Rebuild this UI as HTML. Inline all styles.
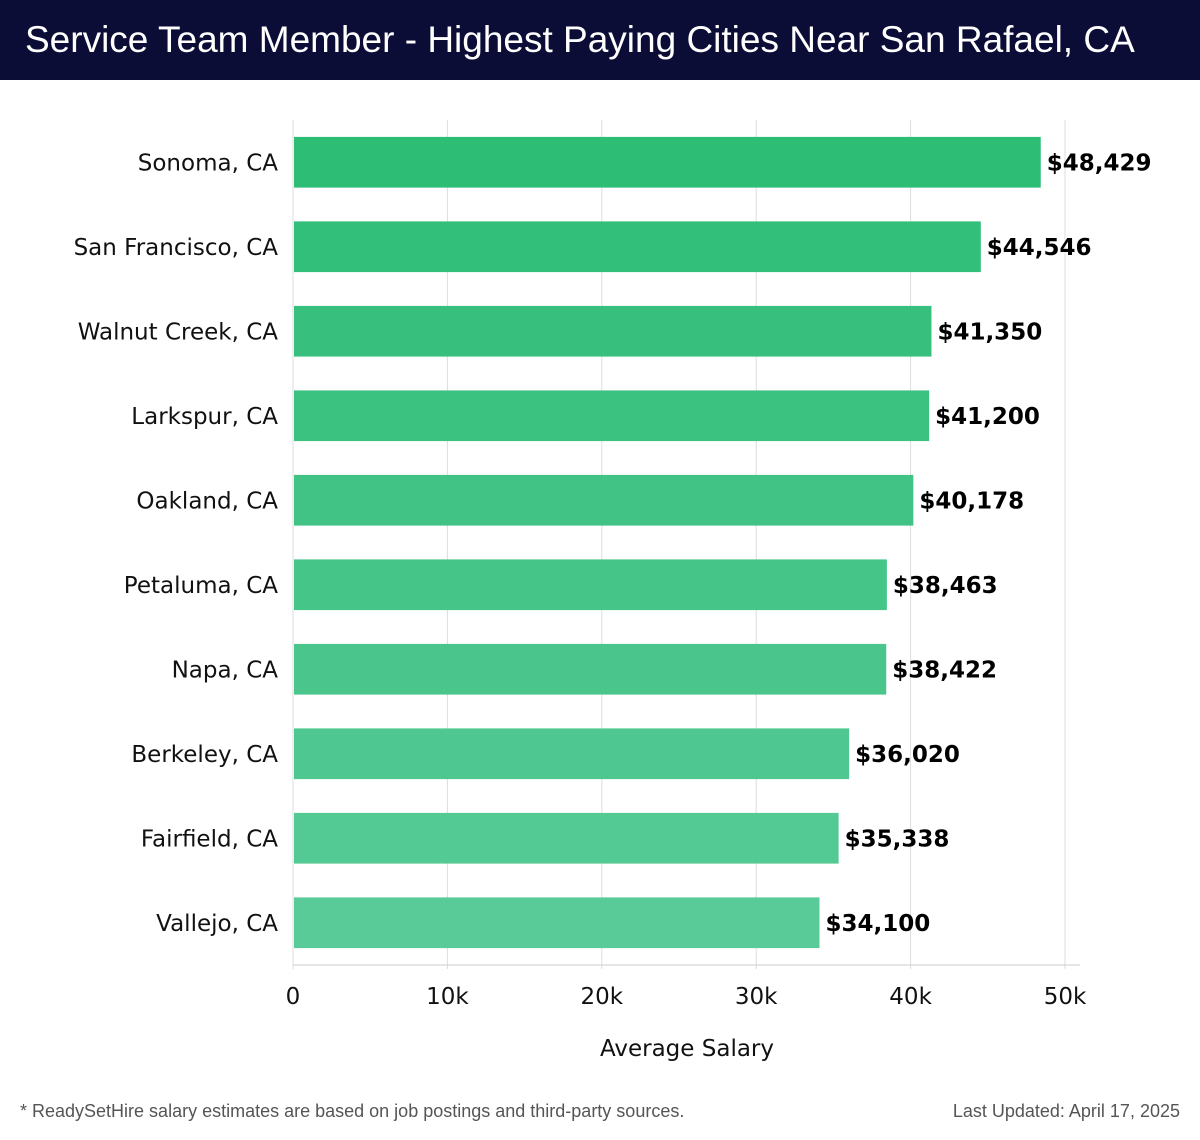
<!DOCTYPE html>
<html><head><meta charset="utf-8"><style>
body{margin:0;width:1200px;height:1140px;background:#fff;font-family:"DejaVu Sans","Liberation Sans",sans-serif;overflow:hidden}
#title{position:absolute;left:0;top:0;width:1200px;height:80px;background:#0b0d36;color:#fff;font-size:37px;line-height:80px;padding-left:25px;box-sizing:border-box;font-family:"Liberation Sans",sans-serif;white-space:nowrap}
#foot-l{position:absolute;left:20px;top:1101px;font-size:18px;color:#555;font-family:"Liberation Sans",sans-serif}
#foot-r{position:absolute;right:20px;top:1101px;font-size:18px;color:#555;font-family:"Liberation Sans",sans-serif}
</style></head><body>
<div id="title">Service Team Member - Highest Paying Cities Near San Rafael, CA</div>
<svg id="chart" width="1200" height="1140" style="position:absolute;left:0;top:0"></svg>
<div id="foot-l">* ReadySetHire salary estimates are based on job postings and third-party sources.</div>
<div id="foot-r">Last Updated: April 17, 2025</div>
<script>
const categories=["Sonoma, CA","San Francisco, CA","Walnut Creek, CA","Larkspur, CA","Oakland, CA","Petaluma, CA","Napa, CA","Berkeley, CA","Fairfield, CA","Vallejo, CA"];
const salaries=[48429,44546,41350,41200,40178,38463,38422,36020,35338,34100];
const tickValues=[0,10000,20000,30000,40000,50000];
const tickLabels=["0","10k","20k","30k","40k","50k"];
const svg=document.getElementById('chart');
const NS='http://www.w3.org/2000/svg';
const x0=293,x1=1065,xMax=50000,top0=120,bottom0=965;
const xs=v=>x0+(v/xMax)*(x1-x0);
const band=(bottom0-top0)/categories.length;
const ys=i=>top0+band*i+band*0.2;
const bh=band*0.6;
function mk(t,a){const e=document.createElementNS(NS,t);for(const k in a)e.setAttribute(k,a[k]);svg.appendChild(e);return e;}
tickValues.forEach((v,i)=>{
 const g=mk('line',{x1:xs(v),x2:xs(v),y1:top0,y2:bottom0+4,stroke:'#dddddd','stroke-width':1});
 
 
 const t=mk('text',{x:xs(v),y:1004,'font-size':23,'text-anchor':'middle',fill:'#111'});
 t.textContent=tickLabels[i];
 
 
});
const ax=mk('line',{x1:x0,x2:1080,y1:bottom0,y2:bottom0,stroke:'#cccccc','stroke-width':1});


const c0=[45,189,117],c1=[88,203,152];
categories.forEach((c,i)=>{
 const f=i/(categories.length-1);
 const col='rgb('+c0.map((v,k)=>Math.round(v+(c1[k]-v)*f)).join(',')+')';
 const r=mk('rect',{x:x0+1,y:ys(i),width:xs(salaries[i])-x0-1,height:bh,fill:col});
 
 
 const l=mk('text',{x:278,y:ys(i)+bh/2+8,'font-size':23,'text-anchor':'end',fill:'#111'});
 l.textContent=c;
 
 
 const v=mk('text',{x:xs(salaries[i])+6,y:ys(i)+bh/2+8,'font-size':23,'font-weight':'bold',fill:'#000'});
 v.textContent='$'+salaries[i].toLocaleString('en-US');
 
 
});
const at=mk('text',{x:687,y:1056,'font-size':23,'text-anchor':'middle',fill:'#111'});
at.textContent='Average Salary';


</script>
</body></html>
